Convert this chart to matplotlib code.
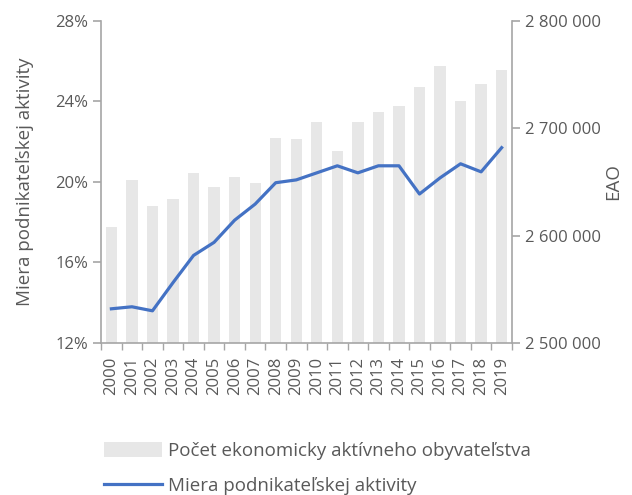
import matplotlib

matplotlib.use("Agg")
import matplotlib.pyplot as plt
from matplotlib.ticker import FuncFormatter, FixedLocator

plt.rcParams["font.family"] = ["Open Sans", "DejaVu Sans"]

years = [str(y) for y in range(2000, 2020)]
eao = [2608000, 2652000, 2628000, 2634000, 2658000, 2645000, 2655000, 2649000,
       2691000, 2689500, 2706000, 2679000, 2706000, 2715000, 2721000, 2738000,
       2757500, 2725500, 2741000, 2754000]
rate = [13.7, 13.8, 13.6, 15.0, 16.35, 17.0, 18.1, 18.9, 19.96, 20.1,
        20.45, 20.8, 20.45, 20.8, 20.8, 19.4, 20.2, 20.9, 20.5, 21.7]

GRAY = "#595959"
AXC = "#a6a6a6"

fig = plt.figure(figsize=(6.32, 4.95), dpi=100)
ax = fig.add_axes([0.160, 0.307, 0.650, 0.651])
ax2 = ax.twinx()

x = list(range(len(years)))
bars = ax2.bar(x, eao, width=0.55, color="#e7e7e7", zorder=1,
               label="Počet ekonomicky aktívneho obyvateľstva")
ax2.set_ylim(2500000, 2800000)
ax2.yaxis.set_major_locator(FixedLocator([2500000, 2600000, 2700000, 2800000]))
ax2.yaxis.set_major_formatter(FuncFormatter(lambda v, p: f"{int(v):,}".replace(",", " ")))

# line sits on the left axis but must be drawn above the bars
ax.set_zorder(ax2.get_zorder() + 1)
ax.patch.set_visible(False)
line, = ax.plot(x, rate, color="#4472c4", lw=2.3, solid_joinstyle="round",
                label="Miera podnikateľskej aktivity")
ax.set_ylim(12, 28)
ax.set_yticks([12, 16, 20, 24, 28])
ax.yaxis.set_major_formatter(FuncFormatter(lambda v, p: f"{v:.0f}%"))
ax.set_xlim(-0.5, len(years) - 0.5)
ax.set_xticks(x)
ax.set_xticklabels(years, rotation=90)
ax.set_xticks([i - 0.5 for i in range(len(years) + 1)], minor=True)
ax.tick_params(axis="x", which="major", length=0, pad=10)
ax.tick_params(axis="x", which="minor", length=5, color=AXC, width=1)

for a in (ax, ax2):
    for s in a.spines.values():
        s.set_color(AXC)
        s.set_linewidth(1.2)
    a.spines["top"].set_visible(False)
    a.tick_params(axis="y", length=6, color=AXC, width=1.2, labelcolor=GRAY,
                  labelsize=12)
    a.tick_params(axis="x", labelcolor=GRAY, labelsize=12)
ax.spines["right"].set_visible(False)
ax2.spines["left"].set_visible(False)
ax2.spines["bottom"].set_visible(False)

ax.set_ylabel("Miera podnikateľskej aktivity", color=GRAY, fontsize=13.5, labelpad=15)
ax2.set_ylabel("EAO", color=GRAY, fontsize=13.5, labelpad=2)

fig.legend(handles=[bars, line], loc="upper left", bbox_to_anchor=(0.164, 0.107),
           frameon=False, fontsize=13.5, labelcolor=GRAY, handlelength=3.1,
           handleheight=0.8, handletextpad=0.35, labelspacing=0.9,
           borderaxespad=0, borderpad=0)

fig.savefig("out.png", dpi=100)
